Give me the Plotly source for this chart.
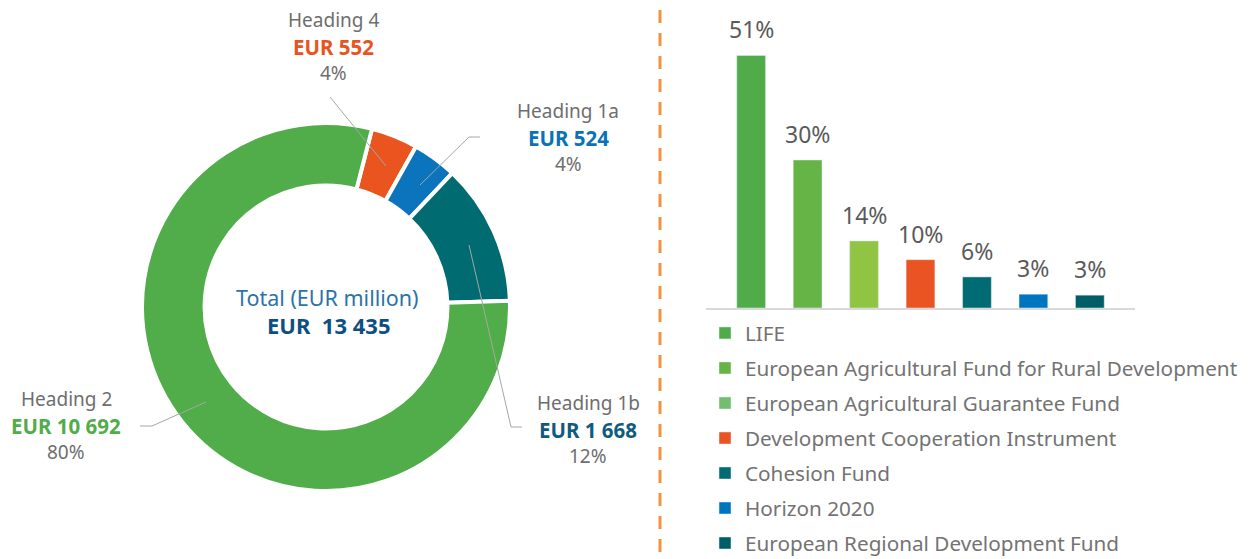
import plotly.graph_objects as go

W, H = 1252, 559

# donut: EUR million by heading (clockwise from top)
headings = ['Heading 4', 'Heading 1a', 'Heading 1b', 'Heading 2']
amounts = [552, 524, 1668, 10692]
total_amount = 13435
pie_colors = ['#e9541f', '#0b74bd', '#006b70', '#50ad4a']
amount_colors = ['#e8541e', '#0a72b8', '#0f5b80', '#50ad4a']

# bars: share of funding by fund (%)
funds = ['LIFE', 'European Agricultural Fund for Rural Development',
         'European Agricultural Guarantee Fund', 'Development Cooperation Instrument',
         'Cohesion Fund', 'Horizon 2020', 'European Regional Development Fund']
fund_shares = [51.2, 30.0, 13.6, 9.8, 6.3, 2.8, 2.6]
bar_colors = ['#4fac48', '#66b445', '#8fc543', '#ea5423', '#006b72', '#0075bf', '#005f66']
legend_colors = ['#4fac48', '#66b445', '#73be6c', '#ea5423', '#006b72', '#0075bf', '#005f66']

FONT = 'Noto Sans'
GREY = '#6e6e6e'


def px(x, y):
	return x / W, 1 - y / H


def fmt(v):
	return f'{v:,}'.replace(',', '\u00a0')


fig = go.Figure()
x0, y1 = px(142, 123)
x1, y0 = px(510, 491)
fig.add_trace(go.Pie(
	values=amounts, labels=headings, hole=0.66, sort=False, direction='clockwise', rotation=14.5,
	marker=dict(colors=pie_colors, line=dict(color='white', width=4)),
	textinfo='none', hoverinfo='label+value+percent', showlegend=False,
	domain=dict(x=[x0, x1], y=[y0, y1]),
))

fig.add_trace(go.Bar(
	x=funds, y=fund_shares, marker_color=bar_colors, width=0.51,
	hoverinfo='x+y', showlegend=False,
))
for name, col in zip(funds, legend_colors):
	fig.add_trace(go.Bar(x=[None], y=[None], name=name, marker_color=col, legendgroup=name))

annotations = []
for f, v in zip(funds, fund_shares):
	annotations.append(dict(
		x=f, y=v, xref='x', yref='y', yanchor='bottom', yshift=8, showarrow=False,
		text=f'{v:.0f}%', font=dict(size=23, color='#5a5a5a', family=FONT),
	))

# heading labels around the donut: (centre x, first line y)
label_pos = [(333, 20), (568, 111), (588, 403), (66, 399)]
for (lx, ly), h, a, c in zip(label_pos, headings, amounts, amount_colors):
	lines = [(h, GREY, False), (f'EUR\u00a0{fmt(a)}', c, True), (f'{round(100 * a / total_amount)}%', GREY, False)]
	for i, (t, col, bold) in enumerate(lines):
		ax, ay = px(lx, ly + 26.5 * i)
		annotations.append(dict(
			x=ax, y=ay, xref='paper', yref='paper', xanchor='center', yanchor='middle', showarrow=False,
			text=f'<b>{t}</b>' if bold else t,
			font=dict(size=20.5 if bold else 19, color=col, family=FONT),
		))
cx, cy = px(327, 297)
annotations.append(dict(x=cx, y=cy, xref='paper', yref='paper', xanchor='center', yanchor='middle',
	showarrow=False, text='Total (EUR million)', font=dict(size=21.5, color='#2b73a8', family=FONT)))
cx, cy = px(328, 325)
annotations.append(dict(x=cx, y=cy, xref='paper', yref='paper', xanchor='center', yanchor='middle',
	showarrow=False, text=f'<b>EUR\u00a0\u00a0{fmt(total_amount)}</b>',
	font=dict(size=22, color='#0f4f80', family=FONT)))

shapes = []
leaders = [
	[(330, 97), (386, 166)],
	[(480, 137), (469, 137), (420, 185)],
	[(469, 245), (511, 427), (522, 427)],
	[(206, 402), (152, 426), (140, 426)],
]
for pts in leaders:
	p = [px(*q) for q in pts]
	path = 'M ' + ' L '.join(f'{a},{b}' for a, b in p)
	shapes.append(dict(type='path', path=path, xref='paper', yref='paper',
		line=dict(color='#a6a6a6', width=1)))

# divider
a, b = px(660, 8)
_, c = px(660, 552)
shapes.append(dict(type='line', x0=a, x1=a, y0=c, y1=b, xref='paper', yref='paper',
	line=dict(color='#f5923e', width=3, dash='13px,10px')))
# small ticks at the ends of the bar axis
for xe in (0, 1):
	shapes.append(dict(type='line', x0=xe, x1=xe, y0=0, y1=-0.012, xref='x domain', yref='paper',
		line=dict(color='#d9d9d9', width=2)))

bx0, _ = px(706, 0)
bx1, _ = px(1135, 0)
_, by1 = px(0, 12)
_, by0 = px(0, 308)
lx, ly = px(705, 313)

fig.update_layout(
	width=W, height=H, margin=dict(l=0, r=0, t=0, b=0, autoexpand=False),
	paper_bgcolor='white', plot_bgcolor='white', barmode='overlay',
	font=dict(family=FONT),
	xaxis=dict(domain=[bx0, bx1], range=[-0.8, 6.8], showticklabels=False, ticks='',
		showline=True, linecolor='#d9d9d9', linewidth=2, showgrid=False, zeroline=False),
	yaxis=dict(domain=[by0, by1], range=[0, 60], visible=False),
	legend=dict(x=lx, y=ly, xanchor='left', yanchor='top', traceorder='grouped', tracegroupgap=5.1,
		font=dict(size=20.7, color='#737373', family=FONT), bgcolor='rgba(0,0,0,0)'),
	annotations=annotations, shapes=shapes,
)

fig.write_html('out.html', config={'displayModeBar': False},
	post_script="document.body.style.margin='0'; document.body.style.overflow='hidden';")
